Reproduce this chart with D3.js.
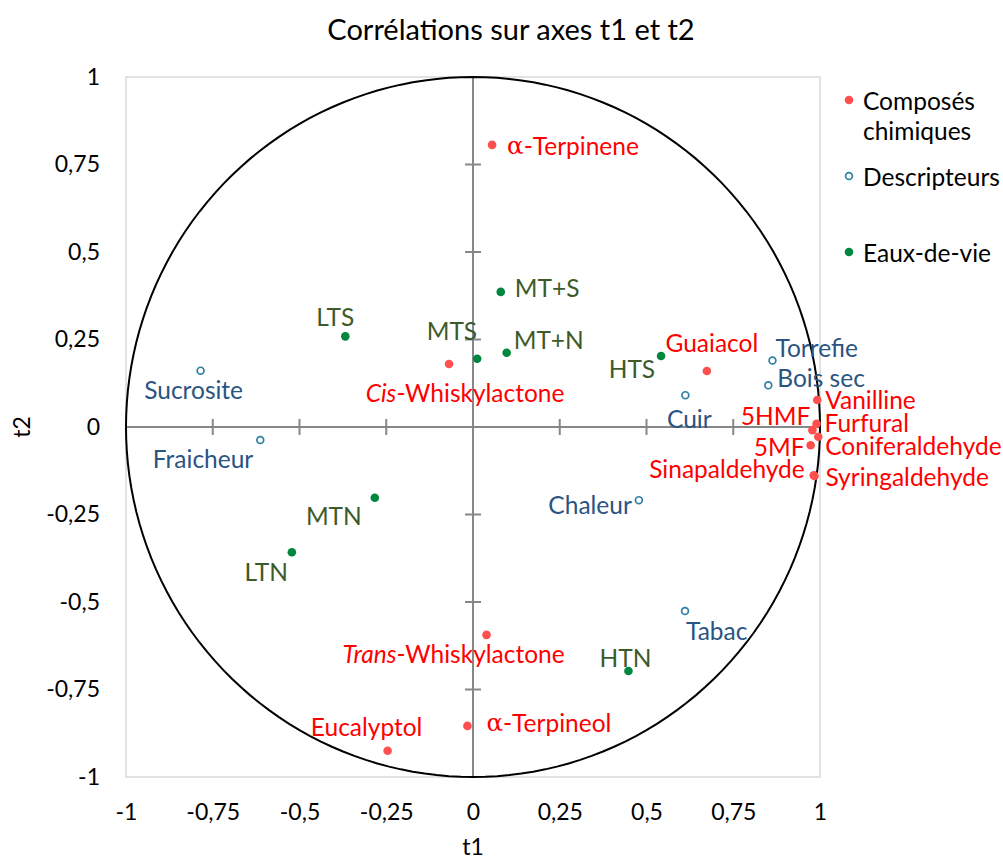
<!DOCTYPE html>
<html>
<head>
<meta charset="utf-8">
<script src="https://cdn.jsdelivr.net/npm/d3@7/dist/d3.min.js"></script>
<style>
  html, body { margin: 0; padding: 0; background: #fff; }
  svg { display: block; font-family: Lato, "Open Sans", sans-serif; }
</style>
</head>
<body>
<svg id="chart" width="1003" height="861"></svg>
<script>
// Correlation circle: variables projected on the t1 / t2 axes
const tickValues = [-1, -0.75, -0.5, -0.25, 0, 0.25, 0.5, 0.75, 1];
const tickLabels = ["-1", "-0,75", "-0,5", "-0,25", "0", "0,25", "0,5", "0,75", "1"];

// Chemical compounds
const compoundNames = ["α-Terpinene", "Guaiacol", "Cis-Whiskylactone", "Vanilline", "Furfural", "5HMF",
  "Coniferaldehyde", "5MF", "Sinapaldehyde", "Syringaldehyde", "Trans-Whiskylactone", "α-Terpineol", "Eucalyptol"];
const compoundT1 = [0.055, 0.674, -0.069, 0.992, 0.990, 0.978, 0.995, 0.973, 0.982, 0.984, 0.039, -0.016, -0.246];
const compoundT2 = [0.806, 0.160, 0.180, 0.077, 0.009, -0.009, -0.028, -0.052, -0.138, -0.140, -0.594, -0.854, -0.925];

// Sensory descriptors
const descriptorNames = ["Torrefie", "Bois sec", "Cuir", "Sucrosite", "Fraicheur", "Chaleur", "Tabac"];
const descriptorT1 = [0.863, 0.851, 0.612, -0.785, -0.613, 0.478, 0.611];
const descriptorT2 = [0.190, 0.119, 0.091, 0.161, -0.037, -0.209, -0.526];

// Spirits (eaux-de-vie)
const spiritNames = ["MT+S", "LTS", "MTS", "MT+N", "HTS", "MTN", "LTN", "HTN"];
const spiritT1 = [0.080, -0.368, 0.012, 0.097, 0.542, -0.283, -0.522, 0.448];
const spiritT2 = [0.386, 0.259, 0.195, 0.212, 0.203, -0.202, -0.358, -0.697];

const seriesNames = ["Composés chimiques", "Descripteurs", "Eaux-de-vie"];

// Label placement next to each point: [dx, dy, anchor]
const labelPlacement = {
  "α-Terpinene": [15, 0, "start"], "Guaiacol": [5, -29, "middle"], "Cis-Whiskylactone": [16, 28, "middle"],
  "Vanilline": [8, -1, "start"], "Furfural": [8, -1, "start"], "5HMF": [-2, -15, "end"],
  "Coniferaldehyde": [7, 9, "start"], "5MF": [-6, 1, "end"], "Sinapaldehyde": [-9, -7, "end"],
  "Syringaldehyde": [11, 0, "start"], "Trans-Whiskylactone": [-33, 18, "middle"], "α-Terpineol": [19, -4, "start"],
  "Eucalyptol": [-21, -24, "middle"],
  "Torrefie": [3, -13, "start"], "Bois sec": [9, -8, "start"], "Cuir": [4, 23, "middle"],
  "Sucrosite": [-7, 19, "middle"], "Fraicheur": [-7, 19, "end"], "Chaleur": [-7, 4, "end"], "Tabac": [1, 19, "start"],
  "MT+S": [14, -4, "start"], "LTS": [-10, -20, "middle"], "MTS": [0, -28, "end"], "MT+N": [7, -13, "start"],
  "HTS": [-6, 13, "end"], "MTN": [-13, 18, "end"], "LTN": [-4, 19, "end"], "HTN": [-3, -13, "middle"]
};

const svg = d3.select("#chart");
const plot = { left: 126, right: 820, top: 77, bottom: 777 };
const x = d3.scaleLinear().domain([-1, 1]).range([plot.left, plot.right]);
const y = d3.scaleLinear().domain([-1, 1]).range([plot.bottom, plot.top]);

const colors = {
  compoundDot: "#ff4f4f", compoundText: "#ff0000",
  descStroke: "#2f7fa6", descText: "#2a5482",
  spiritDot: "#00873e", spiritText: "#3d5a2a"
};
const labelSize = 24.5;
const tickSize = 23;

// Title
svg.append("text").attr("x", 511).attr("y", 28).attr("text-anchor", "middle")
  .attr("dominant-baseline", "central").attr("font-size", 29).attr("fill", "#000")
  .text("Corrélations sur axes t1 et t2");

// Plot area frame
svg.append("rect").attr("x", plot.left).attr("y", plot.top)
  .attr("width", plot.right - plot.left).attr("height", plot.bottom - plot.top)
  .attr("fill", "none").attr("stroke", "#d9d9d9").attr("stroke-width", 1.5);

// Tick labels (left and bottom)
const yAxis = d3.axisLeft(y).tickValues(tickValues).tickFormat((d, i) => tickLabels[i]).tickSize(0).tickPadding(26);
svg.append("g").attr("transform", `translate(${plot.left},0)`).call(yAxis)
  .call(g => g.select(".domain").remove())
  .call(g => g.selectAll("text").attr("font-size", tickSize).attr("fill", "#000").attr("font-family", "Lato, sans-serif"));

const xAxis = d3.axisBottom(x).tickValues(tickValues).tickFormat((d, i) => tickLabels[i]).tickSize(0).tickPadding(27);
svg.append("g").attr("transform", `translate(0,${plot.bottom})`).call(xAxis)
  .call(g => g.select(".domain").remove())
  .call(g => g.selectAll("text").attr("font-size", tickSize).attr("fill", "#000").attr("font-family", "Lato, sans-serif"));

// Axis lines through the origin with crossing tick marks
const axisColor = "#878787";
svg.append("line").attr("x1", x(-1)).attr("x2", x(1)).attr("y1", y(0)).attr("y2", y(0))
  .attr("stroke", axisColor).attr("stroke-width", 2);
svg.append("line").attr("x1", x(0)).attr("x2", x(0)).attr("y1", y(-1)).attr("y2", y(1))
  .attr("stroke", axisColor).attr("stroke-width", 2);
const inner = tickValues.filter(v => v !== 0 && Math.abs(v) !== 1);
svg.selectAll(".xtick").data(inner).join("line")
  .attr("x1", d => x(d)).attr("x2", d => x(d)).attr("y1", y(0) - 8).attr("y2", y(0) + 8)
  .attr("stroke", axisColor).attr("stroke-width", 2);
svg.selectAll(".ytick").data(inner).join("line")
  .attr("y1", d => y(d)).attr("y2", d => y(d)).attr("x1", x(0) - 8).attr("x2", x(0) + 8)
  .attr("stroke", axisColor).attr("stroke-width", 2);

// Unit circle
const circlePts = d3.range(0, 361, 2).map(a => [Math.cos(a * Math.PI / 180), Math.sin(a * Math.PI / 180)]);
svg.append("path").datum(circlePts)
  .attr("d", d3.line().x(d => x(d[0])).y(d => y(d[1])))
  .attr("fill", "none").attr("stroke", "#000").attr("stroke-width", 2);

// Axis titles
svg.append("text").attr("x", x(0)).attr("y", 846).attr("text-anchor", "middle")
  .attr("dominant-baseline", "central").attr("font-size", tickSize).text("t1");
svg.append("text").attr("transform", `translate(21,${y(0)}) rotate(-90)`).attr("text-anchor", "middle")
  .attr("dominant-baseline", "central").attr("font-size", tickSize).text("t2");

// Writes a label, with italic prefixes and a symbol-style alpha
function writeLabel(sel, name) {
  const italicMatch = name.match(/^(Cis|Trans)(-.*)$/);
  if (italicMatch) {
    sel.append("tspan").attr("font-style", "italic").text(italicMatch[1]);
    sel.append("tspan").text(italicMatch[2]);
  } else if (name.startsWith("α")) {
    sel.append("tspan").attr("font-family", "'DejaVu Serif', 'Liberation Serif', serif").text("α");
    sel.append("tspan").text(name.slice(1));
  } else {
    sel.text(name);
  }
}

function drawSeries(names, t1, t2, drawDot, textColor) {
  const data = names.map((n, i) => ({ name: n, t1: t1[i], t2: t2[i] }));
  const g = svg.append("g");
  data.forEach(d => drawDot(g, x(d.t1), y(d.t2)));
  data.forEach(d => {
    const [dx, dy, anchor] = labelPlacement[d.name];
    const t = g.append("text").attr("x", x(d.t1) + dx).attr("y", y(d.t2) + dy)
      .attr("text-anchor", anchor).attr("dominant-baseline", "central")
      .attr("font-size", labelSize).attr("fill", textColor);
    writeLabel(t, d.name);
  });
}

const filledDot = color => (g, cx, cy) => g.append("circle").attr("cx", cx).attr("cy", cy).attr("r", 4.3).attr("fill", color);
const openDot = (g, cx, cy) => g.append("circle").attr("cx", cx).attr("cy", cy).attr("r", 3.4)
  .attr("fill", "#fff").attr("stroke", colors.descStroke).attr("stroke-width", 1.7);

drawSeries(spiritNames, spiritT1, spiritT2, filledDot(colors.spiritDot), colors.spiritText);
drawSeries(descriptorNames, descriptorT1, descriptorT2, openDot, colors.descText);
drawSeries(compoundNames, compoundT1, compoundT2, filledDot(colors.compoundDot), colors.compoundText);

// Legend
const legend = svg.append("g");
const legendItems = [
  { lines: ["Composés", "chimiques"], y: 100, draw: filledDot(colors.compoundDot) },
  { lines: ["Descripteurs"], y: 176, draw: openDot },
  { lines: ["Eaux-de-vie"], y: 252, draw: filledDot(colors.spiritDot) }
];
legendItems.forEach((item, i) => {
  item.draw(legend, 849, item.y);
  item.lines.forEach((ln, j) => {
    legend.append("text").attr("x", 863).attr("y", item.y + j * 30)
      .attr("dominant-baseline", "central").attr("font-size", labelSize).attr("fill", "#000")
      .text(j === 0 && item.lines.length === 1 ? seriesNames[i] : ln);
  });
});
</script>
</body>
</html>
